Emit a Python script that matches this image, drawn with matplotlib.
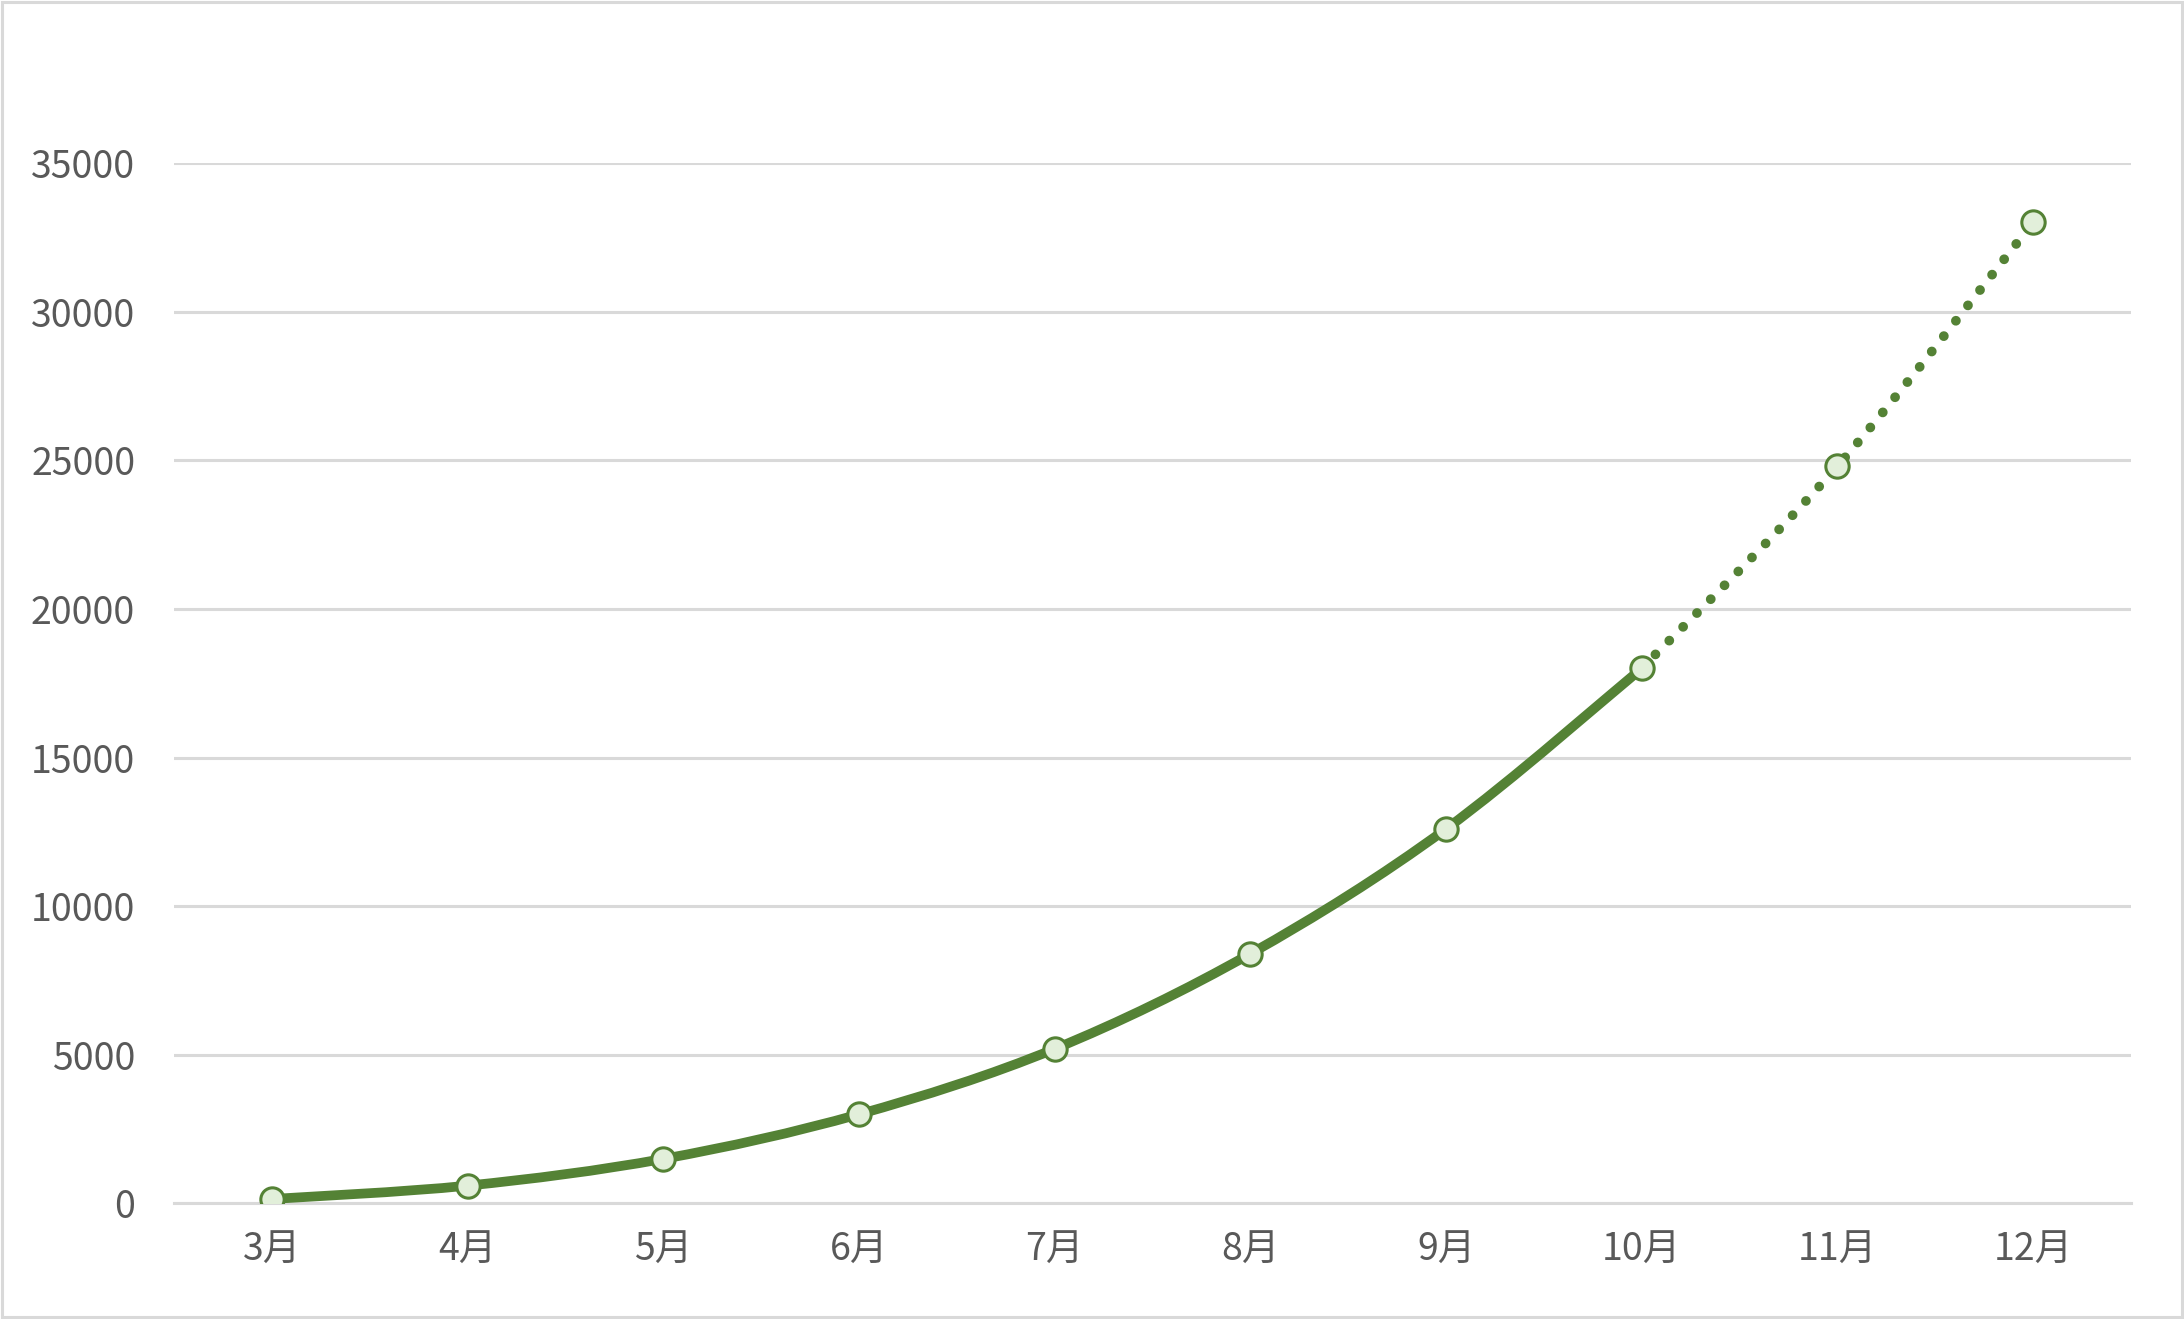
import matplotlib
matplotlib.use('Agg')
import matplotlib.pyplot as plt
from matplotlib.path import Path
from matplotlib.patches import PathPatch, Rectangle

plt.rcParams['font.family'] = ['Noto Sans CJK SC', 'DejaVu Sans']

months = ['3月', '4月', '5月', '6月', '7月', '8月', '9月', '10月', '11月', '12月']
actual = [150, 600, 1500, 3000, 5200, 8400, 12600, 18000]
forecast = [18000, 24800, 33000]
yticks = [0, 5000, 10000, 15000, 20000, 25000, 30000, 35000]

green = '#548235'
marker_fill = '#E2EFDA'
grid_gray = '#D9D9D9'
text_gray = '#595959'


def smooth_path(xs, ys):
    # Catmull-Rom style bezier, like Excel's "smoothed line"
    pts = list(zip(xs, ys))
    verts = [pts[0]]
    codes = [Path.MOVETO]
    n = len(pts)
    for i in range(n - 1):
        p0 = pts[i - 1] if i > 0 else pts[i]
        p1, p2 = pts[i], pts[i + 1]
        p3 = pts[i + 2] if i + 2 < n else pts[i + 1]
        c1 = (p1[0] + (p2[0] - p0[0]) / 6, p1[1] + (p2[1] - p0[1]) / 6)
        c2 = (p2[0] - (p3[0] - p1[0]) / 6, p2[1] - (p3[1] - p1[1]) / 6)
        verts += [c1, c2, p2]
        codes += [Path.CURVE4] * 3
    return Path(verts, codes)


fig = plt.figure(figsize=(10.92, 6.595), dpi=200)
ax = fig.add_axes([0.0797, 0.0876, 0.896, 0.7888])

x_act = list(range(len(actual)))
x_fc = list(range(len(actual) - 1, len(actual) - 1 + len(forecast)))

ax.add_patch(PathPatch(smooth_path(x_act, actual), fill=False, edgecolor=green,
                       linewidth=3.5, capstyle='round', joinstyle='round', zorder=3))
ax.add_patch(PathPatch(smooth_path(x_fc, forecast), fill=False, edgecolor=green,
                       linewidth=3.5, linestyle=(0, (0.01, 2.0)), capstyle='round', zorder=3))

ax.plot(x_act, actual, 'o', ms=8.4, mfc=marker_fill, mec=green, mew=1.1, zorder=4)
ax.plot(x_fc[1:], forecast[1:], 'o', ms=8.4, mfc=marker_fill, mec=green, mew=1.1, zorder=4)

ax.set_xlim(-0.5, len(months) - 0.5)
ax.set_ylim(0, 35000)
ax.set_xticks(range(len(months)))
ax.set_xticklabels(months)
ax.set_yticks(yticks)
ax.set_yticklabels([str(v) for v in yticks])
ax.tick_params(axis='both', length=0, labelsize=13.5, colors=text_gray)
ax.tick_params(axis='y', pad=14)
ax.tick_params(axis='x', pad=10)

ax.grid(axis='y', color=grid_gray, linewidth=1.1)
ax.set_axisbelow(True)
for side in ['top', 'right', 'left']:
    ax.spines[side].set_visible(False)
ax.spines['bottom'].set_color(grid_gray)
ax.spines['bottom'].set_linewidth(1.1)

fig.patches.append(Rectangle((0.001, 0.0015), 0.998, 0.997, transform=fig.transFigure,
                             fill=False, edgecolor=grid_gray, linewidth=1.1))

fig.savefig('out.png', dpi=200)
